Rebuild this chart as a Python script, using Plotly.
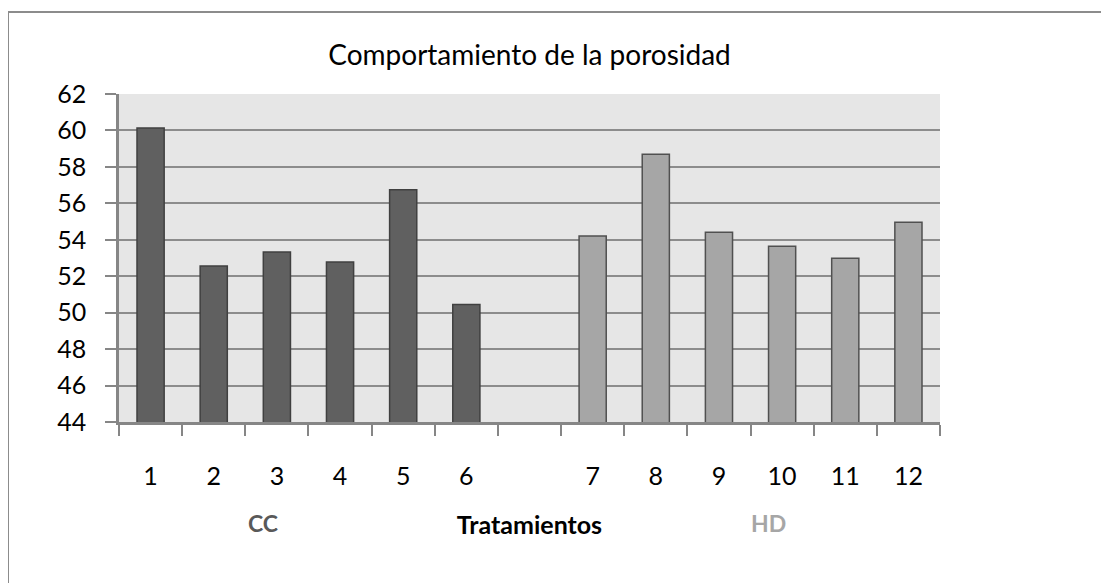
import plotly.graph_objects as go

categories = ["1", "2", "3", "4", "5", "6", "gap", "7", "8", "9", "10", "11", "12"]
tick_labels = ["1", "2", "3", "4", "5", "6", "", "7", "8", "9", "10", "11", "12"]
cc_x = ["1", "2", "3", "4", "5", "6"]
cc_values = [60.13, 52.56, 53.33, 52.78, 56.74, 50.45]
hd_x = ["7", "8", "9", "10", "11", "12"]
hd_values = [54.21, 58.70, 54.41, 53.64, 52.98, 54.96]

FONT = "Lato"
# page has an 8px body margin; figure is sized to fit the window inside it
W, H = 1101, 575
L, T, R, B = 111, 86, 169, 161
PW, PH = W - L - R, H - T - B  # plot area size in px


def px_x(x):
    return (x - L) / PW


def px_y(y):
    return (H - B - y) / PH


fig = go.Figure()
fig.add_trace(go.Bar(x=cc_x, y=cc_values, name="CC", width=0.43,
                     marker=dict(color="#606060", line=dict(color="#404040", width=1.5))))
fig.add_trace(go.Bar(x=hd_x, y=hd_values, name="HD", width=0.43,
                     marker=dict(color="#A6A6A6", line=dict(color="#505050", width=1.5))))

fig.update_layout(
    width=W, height=H,
    margin=dict(l=L, r=R, t=T, b=B),
    paper_bgcolor="white", plot_bgcolor="#E6E6E6",
    barmode="overlay", showlegend=False,
    font=dict(family=FONT, color="black", size=25),
    title=dict(text="Comportamiento de la porosidad", x=0.5, xref="paper",
               y=1 - 47 / H, yanchor="middle", font=dict(family=FONT, size=28, color="black")),
)

fig.update_xaxes(
    type="category", categoryorder="array", categoryarray=categories,
    tickvals=categories, ticktext=tick_labels, tickson="boundaries",
    ticks="outside", ticklen=11, tickwidth=1.5, tickcolor="#868686",
    showline=True, linecolor="#868686", linewidth=2.5,
    showgrid=False, ticklabelstandoff=30,
    tickfont=dict(family=FONT, size=25, color="black"),
    title=dict(text="<b>Tratamientos</b>", standoff=28,
               font=dict(family=FONT, size=25, color="black")),
    range=[-0.5, 12.5],
)
fig.update_yaxes(
    range=[44, 62], dtick=2, tick0=44,
    ticks="outside", ticklen=11, tickwidth=1.5, tickcolor="#868686",
    showline=True, linecolor="#868686", linewidth=2.5,
    showgrid=True, gridcolor="#8C8C8C", gridwidth=1.5,
    ticklabelstandoff=14,
    tickfont=dict(family=FONT, size=25, color="black"),
    zeroline=False,
)

fig.add_annotation(text="<b>CC</b>", xref="paper", yref="paper",
                   x=px_x(263 - 8), y=px_y(523 - 8), xanchor="center", yanchor="middle",
                   showarrow=False, font=dict(family=FONT, size=23, color="#595959"))
fig.add_annotation(text="<b>HD</b>", xref="paper", yref="paper",
                   x=px_x(768 - 8), y=px_y(523 - 8), xanchor="center", yanchor="middle",
                   showarrow=False, font=dict(family=FONT, size=23, color="#A6A6A6"))

fig.add_shape(type="rect", xref="paper", yref="paper",
              x0=px_x(0), x1=px_x(W + 20), y0=px_y(H + 20), y1=px_y(4),
              line=dict(color="#8C8C8C", width=2), fillcolor="rgba(0,0,0,0)", layer="below")

fig.write_html("out.html")
